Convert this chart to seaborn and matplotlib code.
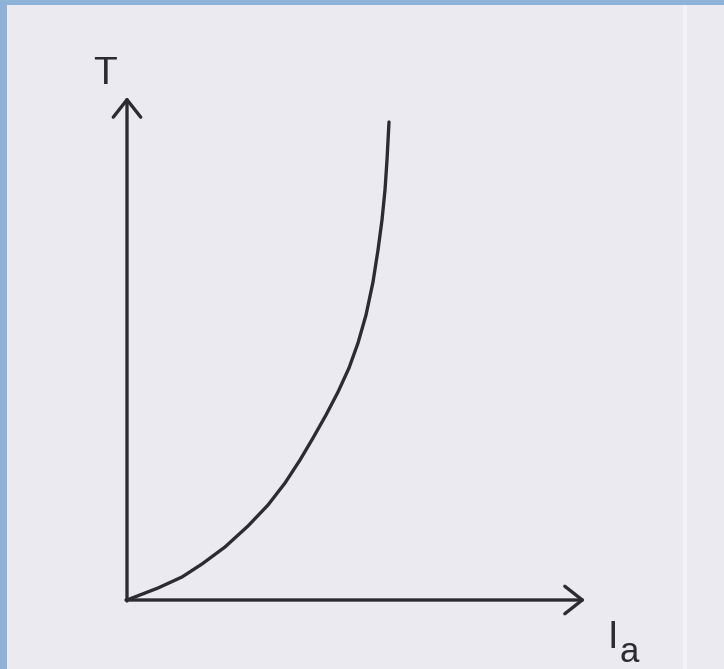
import matplotlib
matplotlib.use("Agg")
import matplotlib.pyplot as plt
from matplotlib.patches import Rectangle
import seaborn as sns
import pandas as pd

# Torque vs armature current (sketch, arbitrary units)
ia_values = [0, 31, 55, 75, 98, 121, 141, 158, 173, 186, 199, 211,
             222, 231, 239, 246, 251, 255, 258, 260, 262]
t_values = [0, 12, 23, 36, 53, 74, 95, 117, 140, 162, 185, 208,
            232, 257, 285, 318, 350, 380, 410, 440, 478]
x_label = "I"
x_sub = "a"
y_label = "T"

df = pd.DataFrame({"Ia": ia_values, "T": t_values})

sns.set_style("white")
plt.rcParams["font.family"] = ["Liberation Sans", "DejaVu Sans"]

W, H = 724, 669
fig = plt.figure(figsize=(W / 100, H / 100), dpi=100)
fig.patch.set_facecolor("#8fb2d8")
# paper sheet
fig.patches.append(Rectangle((7 / W, 0), (W - 7) / W, (H - 5) / H,
                             transform=fig.transFigure, facecolor="#eceaf1",
                             edgecolor="none", zorder=-2))
# fold near the right edge
fig.patches.append(Rectangle((683 / W, 0), 4 / W, (H - 5) / H,
                             transform=fig.transFigure, facecolor="#f3f2f7",
                             edgecolor="none", zorder=-1))

# 1 data unit = 1 pixel, origin at (127, 600)
ax = fig.add_axes([127 / W, 69 / H, 560 / W, 560 / H])
ax.set_xlim(0, 560)
ax.set_ylim(0, 560)
ax.set_facecolor("none")
ax.axis("off")

ink = "#2c2b30"
sns.lineplot(data=df, x="Ia", y="T", ax=ax, color=ink, linewidth=2.4,
             sort=False)

arrow = dict(arrowstyle="->,head_length=0.7,head_width=0.55", color=ink,
             lw=2.4, mutation_scale=18, shrinkA=0, shrinkB=0)
ax.annotate("", xy=(0, 503), xytext=(0, -1), arrowprops=arrow,
            annotation_clip=False)
ax.annotate("", xy=(458, 0), xytext=(-1, 0), arrowprops=arrow,
            annotation_clip=False)

ax.text(-22, 508, y_label, fontsize=28, color=ink, ha="center",
        va="bottom")
ax.text(486, -56, x_label, fontsize=27, color=ink, ha="center",
        va="bottom")
ax.text(502, -69, x_sub, fontsize=25, color=ink, ha="center",
        va="bottom")

fig.savefig("out.png", dpi=100)
